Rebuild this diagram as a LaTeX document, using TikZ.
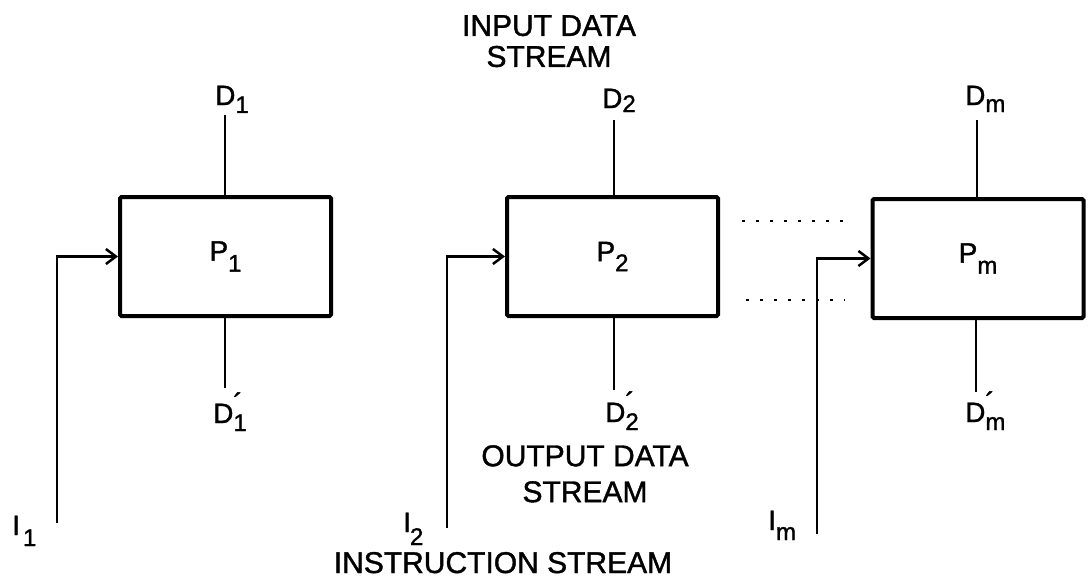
\documentclass[tikz,border=0pt]{standalone}
\usepackage{fontspec}
\setmainfont{Liberation Sans}[FakeBold=1.3]
\usetikzlibrary{arrows.meta}
\newcommand\sbx[2][8pt]{\raisebox{-#1}{\fontsize{24}{24}\selectfont #2}}
\newcommand\prm[1]{\rlap{\raisebox{10pt}{\fontsize{28}{28}\selectfont\char"00B4}}\sbx{#1}}
\begin{document}
\begin{tikzpicture}[x=1pt,y=-1pt,
  proc/.style={draw, line width=4pt, minimum width=211pt, minimum height=119pt, inner sep=0pt, rounded corners=1.5pt, font=\fontsize{28}{28}\selectfont},
  lbl/.style={inner sep=0pt, anchor=base west, font=\fontsize{28}{28}\selectfont},
  ttl/.style={inner sep=0pt, align=center},
  wire/.style={line width=2pt},
  feed/.style={line width=2.5pt, -{Straight Barb[length=10pt,width=15pt,line width=2.5pt]}},
  dots/.style={line width=2pt, dash pattern=on 3pt off 11pt}
]
\useasboundingbox (0,0) rectangle (1090,586);

% processors
\node[proc] (p1) at (225.5,256.5) {P\sbx[11pt]{1}};
\node[proc] (p2) at (612.5,256.5) {P\sbx[10pt]{2}};
\node[proc] (pm) at (978,258.5) {P\sbx[11pt]{m}};

% data labels
\node[lbl] (D1) at (215,105) {D\sbx{1}};
\node[lbl] (D2) at (602,108) {D\sbx[4pt]{2}};
\node[lbl] (Dm) at (965,105) {D\sbx[7pt]{m}};
\node[lbl] (D1p) at (213,423) {D\prm{1}};
\node[lbl] (D2p) at (605,422) {D\prm{2}};
\node[lbl] (Dmp) at (965,422) {D\prm{m}};

% data lines
\coordinate (d1t) at (225,115);
\coordinate (d2t) at (614,120);
\coordinate (dmt) at (977,120);
\coordinate (d1b) at (225,388);
\coordinate (d2b) at (614,390);
\coordinate (dmb) at (976,392);
\draw[wire] (d1t) -- (d1t |- p1.north);
\draw[wire] (d2t) -- (d2t |- p2.north);
\draw[wire] (dmt) -- (dmt |- pm.north);
\draw[wire] (d1b |- p1.south) -- (d1b);
\draw[wire] (d2b |- p2.south) -- (d2b);
\draw[wire] (dmb |- pm.south) -- (dmb);

% instruction lines
\coordinate (i1b) at (57,523);
\coordinate (i2b) at (447,528);
\coordinate (imb) at (817,534);
\draw[feed] (i1b) |- (p1.west);
\draw[feed] (i2b) |- (p2.west);
\draw[feed] (imb) |- (pm.west);

\node[lbl] (I1) at (12,535) {I\kern3pt\sbx[11pt]{1}};
\node[lbl] (I2) at (403,532) {I\kern-1pt\sbx[13pt]{2}};
\node[lbl] (Im) at (768,530) {I\sbx[10pt]{m}};

% dotted continuation
\coordinate (u1) at (742,221);
\coordinate (u2) at (845,221);
\coordinate (l1) at (746,300);
\coordinate (l2) at (845,300);
\draw[dots] (u1) -- (u2);
\draw[dots] (l1) -- (l2);

% titles
\node[ttl, anchor=north, font=\fontsize{30}{31}\selectfont] (inp) at (549,15) {INPUT DATA\\STREAM};
\node[ttl, anchor=north, font=\fontsize{30}{36}\selectfont] (outp) at (585,445) {OUTPUT DATA\\STREAM};
\node[ttl, anchor=base, font=\fontsize{30}{30}\selectfont] (ins) at (503,573) {INSTRUCTION STREAM};
\end{tikzpicture}
\end{document}
